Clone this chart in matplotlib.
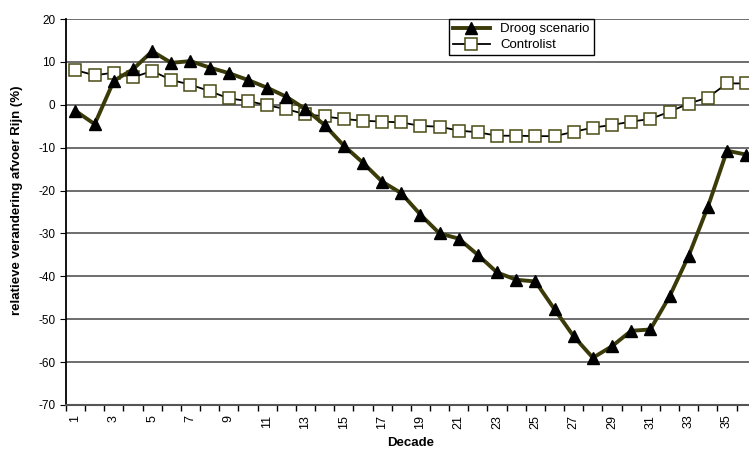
import matplotlib
matplotlib.use("Agg")
from matplotlib import pyplot as plt
import numpy as np

plt.rcParams['font.family'] = ['Liberation Sans', 'DejaVu Sans']
plt.rcParams['axes.unicode_minus'] = False

decades = list(range(1, 37))
droog = [-1.4, -4.5, 5.6, 8.3, 12.5, 9.8, 10.2, 8.7, 7.4, 5.8, 4.0, 1.9,
         -1.0, -4.7, -9.5, -13.5, -17.9, -20.6, -25.6, -30.0, -31.2, -35.0,
         -39.1, -40.8, -41.2, -47.7, -54.0, -59.0, -56.3, -52.7, -52.4,
         -44.7, -35.2, -23.8, -10.7, -11.6]
controlist = [8.1, 6.9, 7.5, 6.4, 7.9, 5.8, 4.7, 3.2, 1.5, 0.9, -0.1, -1.0,
              -2.2, -2.7, -3.3, -3.7, -3.9, -4.1, -4.9, -5.1, -6.0, -6.4,
              -7.2, -7.2, -7.3, -7.3, -6.3, -5.3, -4.7, -3.9, -3.3, -1.6,
              0.3, 1.7, 5.0, 5.0]
yticks = list(range(-70, 21, 10))

fig = plt.figure(figsize=(7.49, 4.55), dpi=100)
ax = fig.add_axes([0.088, 0.110, 0.921, 0.848])

for y in yticks:
    ax.axhline(y, color="#555555", lw=1.2, zorder=1)

ax.plot(decades, droog, color="#3b3b0a", lw=2.8, marker="^", ms=8.5,
        mfc="black", mec="black", label="Droog scenario", zorder=3)
ax.plot(decades, controlist, color="black", lw=1.3, marker="s", ms=9,
        mfc="white", mec="#4a4a14", mew=1.1, label="Controlist", zorder=2)

ax.set_xlim(0.5, 36.5)
ax.set_ylim(-70, 20)
ax.set_yticks(yticks)
ax.set_xticks(decades[::2])
ax.set_xticklabels([str(d) for d in decades[::2]], rotation=90)
ax.set_xticks(np.arange(0.5, 37, 1), minor=True)
ax.tick_params(axis="x", which="major", length=0, labelsize=9, pad=7)
ax.tick_params(axis="x", which="minor", length=4, width=1)
ax.tick_params(axis="y", labelsize=8.5, length=4)

for s in ["top", "right"]:
    ax.spines[s].set_visible(False)
ax.spines["left"].set_linewidth(1.3)
ax.spines["bottom"].set_color("#555555")
ax.spines["bottom"].set_linewidth(1.5)

ax.set_xlabel("Decade", fontsize=9.5, fontweight="bold", labelpad=6)
ax.set_ylabel("relatieve verandering afvoer Rijn (%)", fontsize=9.5,
              fontweight="bold")
ax.yaxis.set_label_coords(-0.062, 0.53)

leg = ax.legend(loc="upper left", bbox_to_anchor=(0.555, 1.0), fontsize=9.5,
                frameon=True, fancybox=False, borderpad=0.3,
                labelspacing=0.3, handlelength=2.8, borderaxespad=0)
leg.get_frame().set_edgecolor("black")
leg.get_frame().set_linewidth(1)
leg.get_frame().set_alpha(1)

fig.savefig("out.png", dpi=100)
